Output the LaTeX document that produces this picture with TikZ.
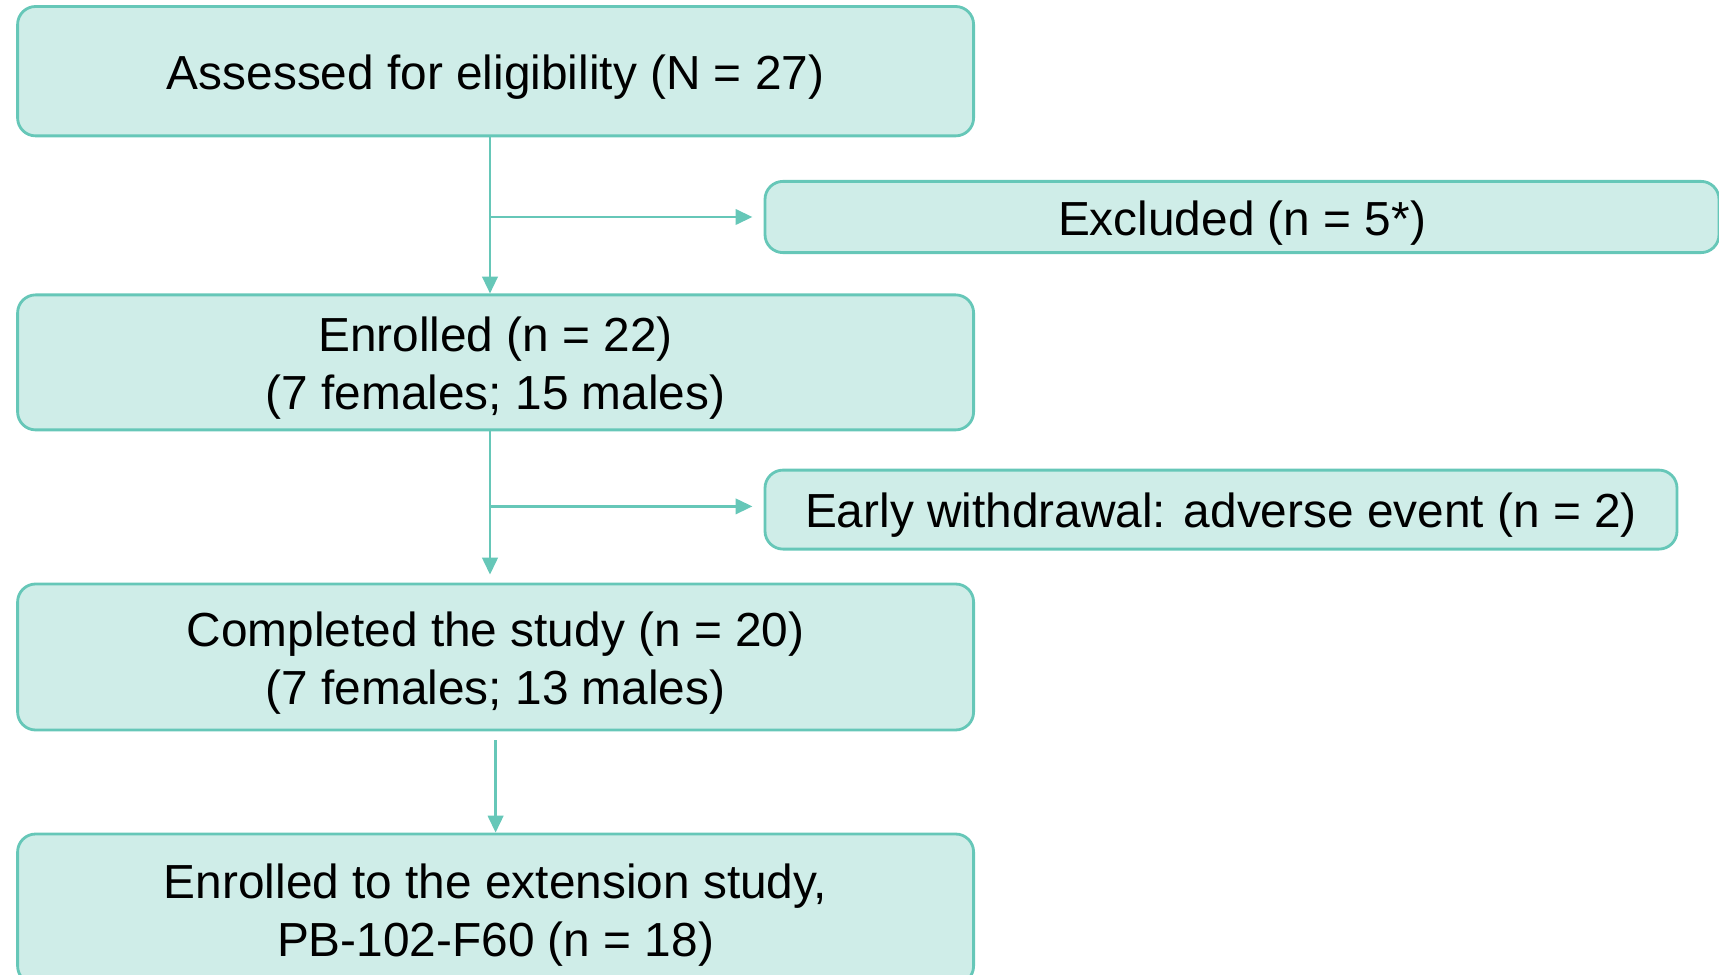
\documentclass[tikz,border=0pt]{standalone}
\usepackage{fontspec}
\setmainfont{Liberation Sans}
\usepackage{xcolor}
\usepackage{tikz}
\usetikzlibrary{positioning, arrows.meta, calc}

\definecolor{boxfill}{HTML}{CFEDE8}
\definecolor{boxline}{HTML}{66C7B8}

% text block set a little low in its box
\newcommand{\boxtext}[1]{\raisebox{0pt}[\dimexpr\height+0.34cm\relax][\depth]{\begin{tabular}{@{}c@{}}#1\end{tabular}}}

\begin{document}
\begin{tikzpicture}[
  flowbox/.style={draw=boxline, fill=boxfill, line width=2pt, rounded corners=0.45cm,
    align=center, inner sep=0pt, font=\fontsize{34}{41}\selectfont},
  link/.style={draw=boxline, line width=1.8pt, -{Triangle[length=12pt, width=11pt]}}
]
\useasboundingbox (0, 0) rectangle (42.975, -24.375);

\node[flowbox, minimum width=23.9cm, minimum height=3.235cm] (assess) at (12.39, -1.78) {\boxtext{Assessed for eligibility (N = 27)}};
\node[flowbox, minimum width=23.85cm, minimum height=1.75cm] (excl) at (31.05, -5.425) {\boxtext{Excluded (n = 5*)}};

\node[flowbox, minimum width=23.9cm, minimum height=3.375cm] (enrol) at (12.39, -9.06) {\boxtext{Enrolled (n = 22)\\(7 females; 15 males)}};
\node[flowbox, minimum width=22.8cm, minimum height=1.975cm] (withdraw) at (30.525, -12.74) {\boxtext{Early withdrawal: adverse event (n = 2)}};

\node[flowbox, minimum width=23.9cm, minimum height=3.65cm] (complete) at (12.39, -16.425) {\boxtext{Completed the study (n = 20)\\(7 females; 13 males)}};

\node[flowbox, minimum width=23.9cm, minimum height=3.75cm] (ext) at (12.39, -22.725) {\boxtext{Enrolled to the extension study,\\PB-102-F60 (n = 18)}};

% trunk lines
\coordinate (j1) at ([xshift=-0.14cm]assess.south);
\coordinate (j2) at ([xshift=-0.14cm]enrol.south);
\draw[link] (j1) -- ([xshift=-0.14cm]enrol.north);
\draw[link] (j2) -- ([xshift=-0.14cm, yshift=0.2cm]complete.north);
\draw[link] ([yshift=-0.22cm]complete.south) -- (ext.north);

% side branches
\draw[link] (j1 |- excl.west) -- ([xshift=-0.28cm]excl.west);
\draw[link] ([yshift=0.08cm]j2 |- withdraw.west) -- ([xshift=-0.28cm, yshift=0.08cm]withdraw.west);

\end{tikzpicture}
\end{document}
